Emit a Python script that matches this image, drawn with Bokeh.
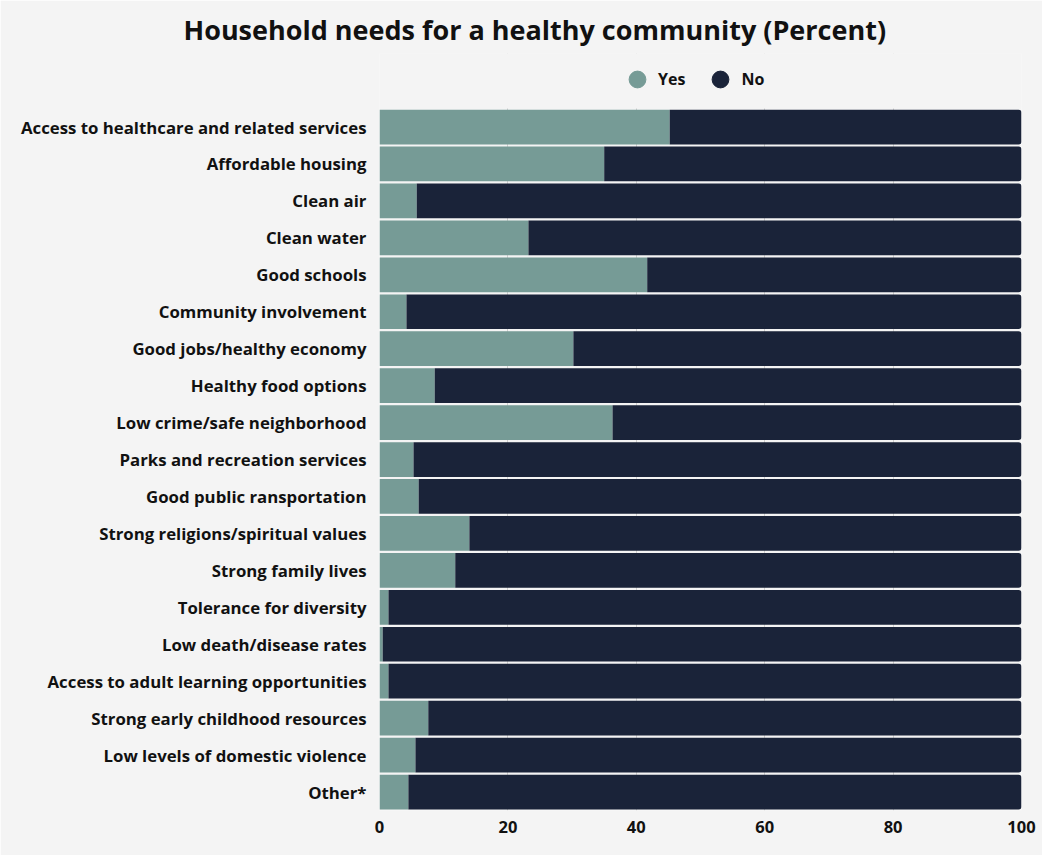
from bokeh.plotting import figure
from bokeh.models import Range1d, Legend, LegendItem, Title, BoxAnnotation, FixedTicker
from bokeh.embed import file_html
from bokeh.resources import INLINE

categories = [
    "Access to healthcare and related services",
    "Affordable housing",
    "Clean air",
    "Clean water",
    "Good schools",
    "Community involvement",
    "Good jobs/healthy economy",
    "Healthy food options",
    "Low crime/safe neighborhood",
    "Parks and recreation services",
    "Good public ransportation",
    "Strong religions/spiritual values",
    "Strong family lives",
    "Tolerance for diversity",
    "Low death/disease rates",
    "Access to adult learning opportunities",
    "Strong early childhood resources",
    "Low levels of domestic violence",
    "Other*",
]
yes_values = [45.2, 35.0, 5.8, 23.2, 41.7, 4.2, 30.2, 8.6, 36.3, 5.3, 6.1, 14.0, 11.8, 1.4, 0.5, 1.4, 7.6, 5.6, 4.5]
no_values = [round(100 - v, 1) for v in yes_values]
x_ticks = [0, 20, 40, 60, 80, 100]

YES_COLOR = "#769b96"
NO_COLOR = "#1a2339"
BG = "#f4f4f4"
FONT = "Open Sans"

n = len(categories)
ypos = [n - 1 - i for i in range(n)]  # first category on top
top_extra = 1.49  # room above the bars for the legend

p = figure(
    width=1042, height=855,
    y_range=Range1d(-0.5, n - 0.5 + top_extra),
    x_range=Range1d(0, 100),
    output_backend="svg", toolbar_location=None,
    min_border_left=379, min_border_right=21, min_border_bottom=45, min_border_top=53,
    background_fill_color=BG, border_fill_color=BG, outline_line_color=None,
)

src = dict(y=ypos, yes=yes_values, no=no_values,
           start_no=yes_values, end_no=[100] * n)

p.hbar(y="y", left=0, right="yes", height=0.94, source=src,
       fill_color=YES_COLOR, line_color=None)
p.hbar(y="y", left="start_no", right="end_no", height=0.94, source=src,
       fill_color=NO_COLOR, line_color=None, border_radius=(0, 3, 3, 0))

# cover grid lines in the legend strip above the bars
p.add_layout(BoxAnnotation(bottom=n - 0.5, fill_color=BG, fill_alpha=1, line_color=None))

d_yes = p.scatter([-10], [0], size=17, color=YES_COLOR)
d_no = p.scatter([-10], [0], size=17, color=NO_COLOR)
legend = Legend(items=[LegendItem(label="Yes", renderers=[d_yes]),
                       LegendItem(label="No", renderers=[d_no])],
                orientation="horizontal", location=(237, 710),
                background_fill_alpha=0, border_line_color=None,
                label_text_font=FONT, label_text_font_style="bold", label_text_font_size="16px",
                label_text_color="#111111",
                glyph_width=42, glyph_height=42, spacing=14, padding=0, margin=0,
                label_standoff=0)
p.add_layout(legend, "center")

p.add_layout(Title(text="Household needs for a healthy community  (Percent)", align="left",
                   offset=-196, text_font=FONT, text_font_style="bold", text_font_size="27px",
                   text_color="#111111", standoff=11), "above")

p.xaxis.ticker = FixedTicker(ticks=x_ticks)
p.xaxis.axis_line_color = None
p.xaxis.major_tick_line_color = None
p.xaxis.minor_tick_line_color = None
p.xaxis.major_label_text_font = FONT
p.xaxis.major_label_text_font_style = "bold"
p.xaxis.major_label_text_font_size = "16.5px"
p.xaxis.major_label_text_color = "#111111"
p.xaxis.major_label_standoff = 4

p.yaxis.ticker = FixedTicker(ticks=ypos)
p.yaxis.major_label_overrides = {y: c for y, c in zip(ypos, categories)}
p.yaxis.axis_line_color = None
p.yaxis.major_tick_line_color = None
p.yaxis.minor_tick_line_color = None
p.yaxis.major_label_text_font = FONT
p.yaxis.major_label_text_font_style = "bold"
p.yaxis.major_label_text_font_size = "16.8px"
p.yaxis.major_label_text_color = "#111111"
p.yaxis.major_label_standoff = 7

p.xgrid.ticker = FixedTicker(ticks=x_ticks)
p.xgrid.grid_line_color = "#cfcfcf"
p.xgrid.grid_line_width = 1
p.ygrid.grid_line_color = None

open("out.html", "w").write(file_html(p, INLINE))
